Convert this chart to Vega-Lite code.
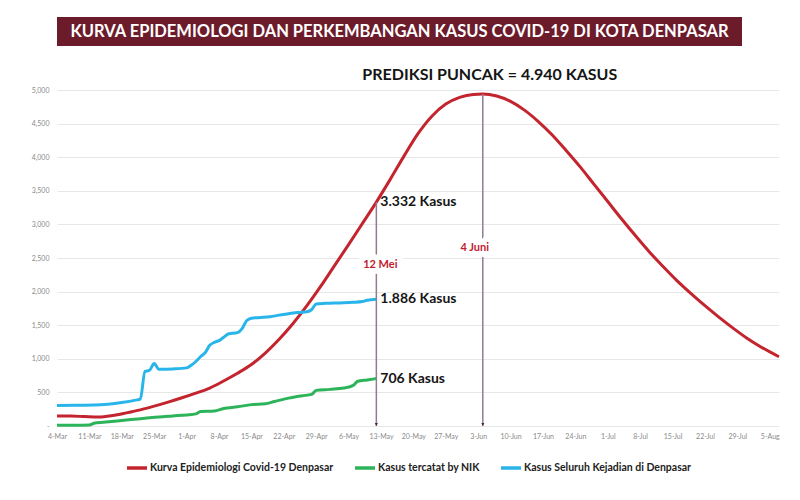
{
  "$schema": "https://vega.github.io/schema/vega-lite/v6.json",
  "padding": {"left": 31, "top": 17, "right": 5, "bottom": 5},
  "background": "white",
  "bounds": "flush",
  "spacing": 44,
  "config": {
    "view": {"stroke": null},
    "font": "Lato",
    "axisX": {
      "title": null,
      "format": "%-d-%b",
      "labelFontSize": 7,
      "labelColor": "#8a8a8a",
      "labelAngle": 0,
      "labelPadding": 6,
      "labelOverlap": false,
      "labelFlush": false,
      "ticks": false,
      "domain": false,
      "grid": false
    },
    "axisY": {
      "title": null,
      "labelFontSize": 7,
      "labelColor": "#8a8a8a",
      "labelPadding": 8,
      "labelOverlap": false,
      "labelFlush": false,
      "ticks": false,
      "domain": false,
      "grid": true,
      "gridColor": "#e7e7e7",
      "gridWidth": 1
    },
    "legend": {
      "orient": "bottom",
      "direction": "horizontal",
      "symbolType": "stroke",
      "symbolStrokeWidth": 3.5,
      "symbolSize": 400,
      "labelFont": "Lato",
      "labelFontSize": 10.5,
      "labelFontWeight": "bold",
      "labelColor": "#222222",
      "labelLimit": 0,
      "columnPadding": 14,
      "labelOffset": 1,
      "offset": 17,
      "layout": {"bottom": {"anchor": "middle"}}
    }
  },
  "datasets": {
    "lines": [
      {"date": "2020-03-04", "series": "Kurva Epidemiologi Covid-19 Denpasar", "value": 150},
      {"date": "2020-03-07", "series": "Kurva Epidemiologi Covid-19 Denpasar", "value": 148},
      {"date": "2020-03-10", "series": "Kurva Epidemiologi Covid-19 Denpasar", "value": 140},
      {"date": "2020-03-13", "series": "Kurva Epidemiologi Covid-19 Denpasar", "value": 133},
      {"date": "2020-03-16", "series": "Kurva Epidemiologi Covid-19 Denpasar", "value": 155},
      {"date": "2020-03-19", "series": "Kurva Epidemiologi Covid-19 Denpasar", "value": 195},
      {"date": "2020-03-22", "series": "Kurva Epidemiologi Covid-19 Denpasar", "value": 240},
      {"date": "2020-03-25", "series": "Kurva Epidemiologi Covid-19 Denpasar", "value": 295},
      {"date": "2020-03-28", "series": "Kurva Epidemiologi Covid-19 Denpasar", "value": 355},
      {"date": "2020-03-31", "series": "Kurva Epidemiologi Covid-19 Denpasar", "value": 420},
      {"date": "2020-04-03", "series": "Kurva Epidemiologi Covid-19 Denpasar", "value": 490},
      {"date": "2020-04-06", "series": "Kurva Epidemiologi Covid-19 Denpasar", "value": 565},
      {"date": "2020-04-09", "series": "Kurva Epidemiologi Covid-19 Denpasar", "value": 670},
      {"date": "2020-04-12", "series": "Kurva Epidemiologi Covid-19 Denpasar", "value": 785},
      {"date": "2020-04-15", "series": "Kurva Epidemiologi Covid-19 Denpasar", "value": 915},
      {"date": "2020-04-18", "series": "Kurva Epidemiologi Covid-19 Denpasar", "value": 1085},
      {"date": "2020-04-21", "series": "Kurva Epidemiologi Covid-19 Denpasar", "value": 1290},
      {"date": "2020-04-24", "series": "Kurva Epidemiologi Covid-19 Denpasar", "value": 1525},
      {"date": "2020-04-27", "series": "Kurva Epidemiologi Covid-19 Denpasar", "value": 1790},
      {"date": "2020-04-30", "series": "Kurva Epidemiologi Covid-19 Denpasar", "value": 2080},
      {"date": "2020-05-03", "series": "Kurva Epidemiologi Covid-19 Denpasar", "value": 2390},
      {"date": "2020-05-06", "series": "Kurva Epidemiologi Covid-19 Denpasar", "value": 2700},
      {"date": "2020-05-09", "series": "Kurva Epidemiologi Covid-19 Denpasar", "value": 3015},
      {"date": "2020-05-12", "series": "Kurva Epidemiologi Covid-19 Denpasar", "value": 3332},
      {"date": "2020-05-15", "series": "Kurva Epidemiologi Covid-19 Denpasar", "value": 3670},
      {"date": "2020-05-18", "series": "Kurva Epidemiologi Covid-19 Denpasar", "value": 4020},
      {"date": "2020-05-21", "series": "Kurva Epidemiologi Covid-19 Denpasar", "value": 4350},
      {"date": "2020-05-24", "series": "Kurva Epidemiologi Covid-19 Denpasar", "value": 4610},
      {"date": "2020-05-27", "series": "Kurva Epidemiologi Covid-19 Denpasar", "value": 4790},
      {"date": "2020-05-30", "series": "Kurva Epidemiologi Covid-19 Denpasar", "value": 4890},
      {"date": "2020-06-02", "series": "Kurva Epidemiologi Covid-19 Denpasar", "value": 4934},
      {"date": "2020-06-04", "series": "Kurva Epidemiologi Covid-19 Denpasar", "value": 4940},
      {"date": "2020-06-07", "series": "Kurva Epidemiologi Covid-19 Denpasar", "value": 4910},
      {"date": "2020-06-10", "series": "Kurva Epidemiologi Covid-19 Denpasar", "value": 4830},
      {"date": "2020-06-13", "series": "Kurva Epidemiologi Covid-19 Denpasar", "value": 4700},
      {"date": "2020-06-16", "series": "Kurva Epidemiologi Covid-19 Denpasar", "value": 4530},
      {"date": "2020-06-19", "series": "Kurva Epidemiologi Covid-19 Denpasar", "value": 4330},
      {"date": "2020-06-22", "series": "Kurva Epidemiologi Covid-19 Denpasar", "value": 4100},
      {"date": "2020-06-25", "series": "Kurva Epidemiologi Covid-19 Denpasar", "value": 3860},
      {"date": "2020-06-28", "series": "Kurva Epidemiologi Covid-19 Denpasar", "value": 3600},
      {"date": "2020-07-01", "series": "Kurva Epidemiologi Covid-19 Denpasar", "value": 3340},
      {"date": "2020-07-04", "series": "Kurva Epidemiologi Covid-19 Denpasar", "value": 3080},
      {"date": "2020-07-07", "series": "Kurva Epidemiologi Covid-19 Denpasar", "value": 2830},
      {"date": "2020-07-10", "series": "Kurva Epidemiologi Covid-19 Denpasar", "value": 2590},
      {"date": "2020-07-13", "series": "Kurva Epidemiologi Covid-19 Denpasar", "value": 2370},
      {"date": "2020-07-16", "series": "Kurva Epidemiologi Covid-19 Denpasar", "value": 2160},
      {"date": "2020-07-19", "series": "Kurva Epidemiologi Covid-19 Denpasar", "value": 1970},
      {"date": "2020-07-22", "series": "Kurva Epidemiologi Covid-19 Denpasar", "value": 1790},
      {"date": "2020-07-25", "series": "Kurva Epidemiologi Covid-19 Denpasar", "value": 1620},
      {"date": "2020-07-28", "series": "Kurva Epidemiologi Covid-19 Denpasar", "value": 1460},
      {"date": "2020-07-31", "series": "Kurva Epidemiologi Covid-19 Denpasar", "value": 1310},
      {"date": "2020-08-03", "series": "Kurva Epidemiologi Covid-19 Denpasar", "value": 1180},
      {"date": "2020-08-07", "series": "Kurva Epidemiologi Covid-19 Denpasar", "value": 1030},

      {"date": "2020-03-04", "series": "Kasus tercatat by NIK", "value": 12},
      {"date": "2020-03-08", "series": "Kasus tercatat by NIK", "value": 12},
      {"date": "2020-03-11", "series": "Kasus tercatat by NIK", "value": 15},
      {"date": "2020-03-12", "series": "Kasus tercatat by NIK", "value": 40},
      {"date": "2020-03-14", "series": "Kasus tercatat by NIK", "value": 55},
      {"date": "2020-03-17", "series": "Kasus tercatat by NIK", "value": 75},
      {"date": "2020-03-20", "series": "Kasus tercatat by NIK", "value": 95},
      {"date": "2020-03-23", "series": "Kasus tercatat by NIK", "value": 115},
      {"date": "2020-03-26", "series": "Kasus tercatat by NIK", "value": 135},
      {"date": "2020-03-29", "series": "Kasus tercatat by NIK", "value": 150},
      {"date": "2020-04-01", "series": "Kasus tercatat by NIK", "value": 165},
      {"date": "2020-04-03", "series": "Kasus tercatat by NIK", "value": 180},
      {"date": "2020-04-04", "series": "Kasus tercatat by NIK", "value": 215},
      {"date": "2020-04-07", "series": "Kasus tercatat by NIK", "value": 222},
      {"date": "2020-04-09", "series": "Kasus tercatat by NIK", "value": 260},
      {"date": "2020-04-12", "series": "Kasus tercatat by NIK", "value": 285},
      {"date": "2020-04-15", "series": "Kasus tercatat by NIK", "value": 318},
      {"date": "2020-04-18", "series": "Kasus tercatat by NIK", "value": 330},
      {"date": "2020-04-20", "series": "Kasus tercatat by NIK", "value": 365},
      {"date": "2020-04-23", "series": "Kasus tercatat by NIK", "value": 415},
      {"date": "2020-04-26", "series": "Kasus tercatat by NIK", "value": 450},
      {"date": "2020-04-28", "series": "Kasus tercatat by NIK", "value": 470},
      {"date": "2020-04-29", "series": "Kasus tercatat by NIK", "value": 530},
      {"date": "2020-05-02", "series": "Kasus tercatat by NIK", "value": 545},
      {"date": "2020-05-05", "series": "Kasus tercatat by NIK", "value": 565},
      {"date": "2020-05-07", "series": "Kasus tercatat by NIK", "value": 605},
      {"date": "2020-05-08", "series": "Kasus tercatat by NIK", "value": 665},
      {"date": "2020-05-10", "series": "Kasus tercatat by NIK", "value": 685},
      {"date": "2020-05-12", "series": "Kasus tercatat by NIK", "value": 706},

      {"date": "2020-03-04", "series": "Kasus Seluruh Kejadian di Denpasar", "value": 305},
      {"date": "2020-03-08", "series": "Kasus Seluruh Kejadian di Denpasar", "value": 308},
      {"date": "2020-03-12", "series": "Kasus Seluruh Kejadian di Denpasar", "value": 312},
      {"date": "2020-03-15", "series": "Kasus Seluruh Kejadian di Denpasar", "value": 325},
      {"date": "2020-03-18", "series": "Kasus Seluruh Kejadian di Denpasar", "value": 350},
      {"date": "2020-03-21", "series": "Kasus Seluruh Kejadian di Denpasar", "value": 385},
      {"date": "2020-03-22", "series": "Kasus Seluruh Kejadian di Denpasar", "value": 400},
      {"date": "2020-03-23", "series": "Kasus Seluruh Kejadian di Denpasar", "value": 810},
      {"date": "2020-03-24", "series": "Kasus Seluruh Kejadian di Denpasar", "value": 830},
      {"date": "2020-03-25", "series": "Kasus Seluruh Kejadian di Denpasar", "value": 930},
      {"date": "2020-03-26", "series": "Kasus Seluruh Kejadian di Denpasar", "value": 845},
      {"date": "2020-03-29", "series": "Kasus Seluruh Kejadian di Denpasar", "value": 850},
      {"date": "2020-04-01", "series": "Kasus Seluruh Kejadian di Denpasar", "value": 865},
      {"date": "2020-04-02", "series": "Kasus Seluruh Kejadian di Denpasar", "value": 905},
      {"date": "2020-04-03", "series": "Kasus Seluruh Kejadian di Denpasar", "value": 960},
      {"date": "2020-04-04", "series": "Kasus Seluruh Kejadian di Denpasar", "value": 1030},
      {"date": "2020-04-05", "series": "Kasus Seluruh Kejadian di Denpasar", "value": 1090},
      {"date": "2020-04-06", "series": "Kasus Seluruh Kejadian di Denpasar", "value": 1200},
      {"date": "2020-04-07", "series": "Kasus Seluruh Kejadian di Denpasar", "value": 1245},
      {"date": "2020-04-08", "series": "Kasus Seluruh Kejadian di Denpasar", "value": 1270},
      {"date": "2020-04-09", "series": "Kasus Seluruh Kejadian di Denpasar", "value": 1320},
      {"date": "2020-04-10", "series": "Kasus Seluruh Kejadian di Denpasar", "value": 1370},
      {"date": "2020-04-12", "series": "Kasus Seluruh Kejadian di Denpasar", "value": 1390},
      {"date": "2020-04-13", "series": "Kasus Seluruh Kejadian di Denpasar", "value": 1450},
      {"date": "2020-04-14", "series": "Kasus Seluruh Kejadian di Denpasar", "value": 1570},
      {"date": "2020-04-15", "series": "Kasus Seluruh Kejadian di Denpasar", "value": 1605},
      {"date": "2020-04-17", "series": "Kasus Seluruh Kejadian di Denpasar", "value": 1615},
      {"date": "2020-04-19", "series": "Kasus Seluruh Kejadian di Denpasar", "value": 1625},
      {"date": "2020-04-21", "series": "Kasus Seluruh Kejadian di Denpasar", "value": 1650},
      {"date": "2020-04-23", "series": "Kasus Seluruh Kejadian di Denpasar", "value": 1670},
      {"date": "2020-04-25", "series": "Kasus Seluruh Kejadian di Denpasar", "value": 1690},
      {"date": "2020-04-27", "series": "Kasus Seluruh Kejadian di Denpasar", "value": 1700},
      {"date": "2020-04-28", "series": "Kasus Seluruh Kejadian di Denpasar", "value": 1730},
      {"date": "2020-04-29", "series": "Kasus Seluruh Kejadian di Denpasar", "value": 1815},
      {"date": "2020-05-01", "series": "Kasus Seluruh Kejadian di Denpasar", "value": 1825},
      {"date": "2020-05-04", "series": "Kasus Seluruh Kejadian di Denpasar", "value": 1832},
      {"date": "2020-05-07", "series": "Kasus Seluruh Kejadian di Denpasar", "value": 1840},
      {"date": "2020-05-09", "series": "Kasus Seluruh Kejadian di Denpasar", "value": 1852},
      {"date": "2020-05-10", "series": "Kasus Seluruh Kejadian di Denpasar", "value": 1870},
      {"date": "2020-05-12", "series": "Kasus Seluruh Kejadian di Denpasar", "value": 1886}
    ],
    "markers": [
      {"date": "2020-05-12", "value": 3332, "base": 0},
      {"date": "2020-06-04", "value": 4940, "base": 0}
    ],
    "callouts": [
      {"date": "2020-05-12", "value": 3332, "label": "3.332 Kasus"},
      {"date": "2020-05-12", "value": 1886, "label": "1.886 Kasus"},
      {"date": "2020-05-12", "value": 706, "label": "706 Kasus"}
    ],
    "datelabels": [
      {"date": "2020-05-12", "value": 2400, "label": "12 Mei"},
      {"date": "2020-06-04", "value": 2650, "label": "4 Juni"}
    ],
    "peak": [
      {"date": "2020-06-04", "value": 4940, "label": "PREDIKSI PUNCAK = 4.940 KASUS"}
    ]
  },
  "vconcat": [
    {
      "width": 685,
      "height": 29,
      "view": {"fill": "#6c1b2b", "stroke": null},
      "data": {"values": [{"title": "KURVA EPIDEMIOLOGI DAN PERKEMBANGAN KASUS COVID-19 DI KOTA DENPASAR"}]},
      "mark": {"type": "text", "color": "#ffffff", "font": "Lato", "fontWeight": "bold", "fontSize": 16.5, "align": "center", "baseline": "middle"},
      "encoding": {"text": {"field": "title", "type": "nominal"}}
    },
    {
      "width": 722,
      "height": 336,
      "encoding": {
        "x": {
          "field": "date",
          "type": "temporal",
          "scale": {
            "type": "utc",
            "domain": [
              {"year": 2020, "month": 3, "date": 4, "utc": true},
              {"year": 2020, "month": 8, "date": 7, "utc": true}
            ]
          },
          "axis": {
            "values": [
              {"year": 2020, "month": 3, "date": 4, "utc": true},
              {"year": 2020, "month": 3, "date": 11, "utc": true},
              {"year": 2020, "month": 3, "date": 18, "utc": true},
              {"year": 2020, "month": 3, "date": 25, "utc": true},
              {"year": 2020, "month": 4, "date": 1, "utc": true},
              {"year": 2020, "month": 4, "date": 8, "utc": true},
              {"year": 2020, "month": 4, "date": 15, "utc": true},
              {"year": 2020, "month": 4, "date": 22, "utc": true},
              {"year": 2020, "month": 4, "date": 29, "utc": true},
              {"year": 2020, "month": 5, "date": 6, "utc": true},
              {"year": 2020, "month": 5, "date": 13, "utc": true},
              {"year": 2020, "month": 5, "date": 20, "utc": true},
              {"year": 2020, "month": 5, "date": 27, "utc": true},
              {"year": 2020, "month": 6, "date": 3, "utc": true},
              {"year": 2020, "month": 6, "date": 10, "utc": true},
              {"year": 2020, "month": 6, "date": 17, "utc": true},
              {"year": 2020, "month": 6, "date": 24, "utc": true},
              {"year": 2020, "month": 7, "date": 1, "utc": true},
              {"year": 2020, "month": 7, "date": 8, "utc": true},
              {"year": 2020, "month": 7, "date": 15, "utc": true},
              {"year": 2020, "month": 7, "date": 22, "utc": true},
              {"year": 2020, "month": 7, "date": 29, "utc": true},
              {"year": 2020, "month": 8, "date": 5, "utc": true}
            ]
          }
        },
        "y": {
          "field": "value",
          "type": "quantitative",
          "scale": {"domain": [0, 5000], "nice": false},
          "axis": {
            "values": [0, 500, 1000, 1500, 2000, 2500, 3000, 3500, 4000, 4500, 5000],
            "labelExpr": "datum.value === 0 ? '-' : format(datum.value, ',')"
          }
        }
      },
      "layer": [
        {
          "data": {"name": "lines"},
          "mark": {"type": "line", "strokeWidth": 3, "interpolate": "monotone"},
          "encoding": {
            "color": {
              "field": "series",
              "type": "nominal",
              "scale": {
                "domain": ["Kurva Epidemiologi Covid-19 Denpasar", "Kasus tercatat by NIK", "Kasus Seluruh Kejadian di Denpasar"],
                "range": ["#c3242d", "#2db45a", "#2ab5ea"]
              },
              "legend": {"title": null}
            }
          }
        },
        {
          "data": {"name": "markers"},
          "mark": {"type": "rule", "color": "#8f7d8f", "strokeWidth": 1.5},
          "encoding": {
            "y2": {"field": "base"}
          }
        },
        {
          "data": {"name": "markers"},
          "mark": {"type": "point", "filled": true, "shape": "M-0.55,-1.1L0.55,-1.1L0,0Z", "size": 30, "color": "#4f1f3f", "opacity": 1},
          "encoding": {
            "y": {"field": "base", "type": "quantitative"}
          }
        },
        {
          "data": {"name": "datelabels"},
          "transform": [{"filter": "datum.label === '12 Mei'"}],
          "mark": {"type": "text", "fontSize": 11, "fontWeight": "bold", "color": "#ffffff", "stroke": "#ffffff", "strokeWidth": 12, "strokeJoin": "round", "align": "center", "baseline": "middle", "dx": 4},
          "encoding": {"text": {"field": "label", "type": "nominal"}}
        },
        {
          "data": {"name": "datelabels"},
          "transform": [{"filter": "datum.label === '12 Mei'"}],
          "mark": {"type": "text", "fontSize": 11, "fontWeight": "bold", "color": "#c0202e", "align": "center", "baseline": "middle", "dx": 4},
          "encoding": {"text": {"field": "label", "type": "nominal"}}
        },
        {
          "data": {"name": "datelabels"},
          "transform": [{"filter": "datum.label === '4 Juni'"}],
          "mark": {"type": "text", "fontSize": 11, "fontWeight": "bold", "color": "#ffffff", "stroke": "#ffffff", "strokeWidth": 12, "strokeJoin": "round", "align": "center", "baseline": "middle", "dx": -8},
          "encoding": {"text": {"field": "label", "type": "nominal"}}
        },
        {
          "data": {"name": "datelabels"},
          "transform": [{"filter": "datum.label === '4 Juni'"}],
          "mark": {"type": "text", "fontSize": 11, "fontWeight": "bold", "color": "#c0202e", "align": "center", "baseline": "middle", "dx": -8},
          "encoding": {"text": {"field": "label", "type": "nominal"}}
        },
        {
          "data": {"name": "callouts"},
          "mark": {"type": "text", "fontSize": 14, "fontWeight": "bold", "color": "#151515", "align": "left", "baseline": "middle", "dx": 4},
          "encoding": {"text": {"field": "label", "type": "nominal"}}
        },
        {
          "data": {"name": "peak"},
          "mark": {"type": "text", "fontSize": 16, "fontWeight": "bold", "color": "#151515", "align": "center", "baseline": "middle", "dx": 7, "dy": -19},
          "encoding": {"text": {"field": "label", "type": "nominal"}}
        }
      ]
    }
  ]
}
